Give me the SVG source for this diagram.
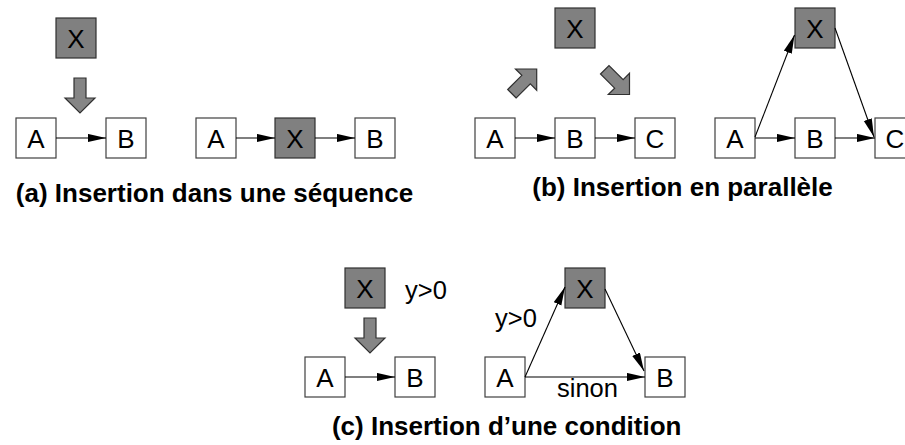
<svg xmlns="http://www.w3.org/2000/svg" width="905" height="445" viewBox="0 0 905 445">
<defs>
<style>
.box{fill:#ffffff;stroke:#404040;stroke-width:1.2}
.xbox{fill:#808080;stroke:#303030;stroke-width:1.2}
.lbl{font-family:"Liberation Sans",Arial,sans-serif;font-size:26px;fill:#000;text-anchor:middle}
.txt{font-family:"Liberation Sans",Arial,sans-serif;font-size:25.5px;fill:#000}
.cap{font-family:"Liberation Sans",Arial,sans-serif;font-size:26px;font-weight:bold;fill:#000;text-anchor:middle}
.edge{stroke:#000;stroke-width:1.1;fill:none;marker-end:url(#ah)}
.fat{fill:#858585;stroke:#303030;stroke-width:1.2;stroke-linejoin:miter}
</style>
<marker id="ah" markerUnits="userSpaceOnUse" markerWidth="19" markerHeight="9" refX="18.5" refY="4.2" orient="auto">
<path d="M0,0 L18.5,4.2 L0,8.4 z" fill="#000"/>
</marker>
<polygon id="fatarrow" points="-6,-35 6,-35 6,-15 15,-15 0,0 -15,-15 -6,-15"/>
</defs>

<!-- Panel (a) left -->
<g id="a1-X"><rect class="xbox" x="56" y="18" width="40" height="40"/><text class="lbl" x="76" y="48">X</text></g>
<g id="a1-A"><rect class="box" x="16" y="118" width="40" height="40"/><text class="lbl" x="36" y="148">A</text></g>
<g id="a1-B"><rect class="box" x="106" y="118" width="40" height="40"/><text class="lbl" x="126" y="148">B</text></g>
<!-- Panel (a) right -->
<g id="a2-A"><rect class="box" x="196" y="118" width="40" height="40"/><text class="lbl" x="216" y="148">A</text></g>
<g id="a2-X"><rect class="xbox" x="275" y="118" width="40" height="40"/><text class="lbl" x="295" y="148">X</text></g>
<g id="a2-B"><rect class="box" x="355" y="118" width="40" height="40"/><text class="lbl" x="375" y="148">B</text></g>

<!-- Panel (b) left -->
<g id="b1-X"><rect class="xbox" x="555" y="8" width="40" height="40"/><text class="lbl" x="575" y="38">X</text></g>
<g id="b1-A"><rect class="box" x="475" y="118" width="40" height="40"/><text class="lbl" x="495" y="148">A</text></g>
<g id="b1-B"><rect class="box" x="555" y="118" width="40" height="40"/><text class="lbl" x="575" y="148">B</text></g>
<g id="b1-C"><rect class="box" x="635" y="118" width="40" height="40"/><text class="lbl" x="655" y="148">C</text></g>
<!-- Panel (b) right -->
<g id="b2-X"><rect class="xbox" x="795" y="8" width="40" height="40"/><text class="lbl" x="815" y="38">X</text></g>
<g id="b2-A"><rect class="box" x="715" y="118" width="40" height="40"/><text class="lbl" x="735" y="148">A</text></g>
<g id="b2-B"><rect class="box" x="795" y="118" width="40" height="40"/><text class="lbl" x="815" y="148">B</text></g>
<g id="b2-C"><rect class="box" x="875" y="118" width="40" height="40"/><text class="lbl" x="895" y="148">C</text></g>

<!-- Panel (c) left -->
<g id="c1-X"><rect class="xbox" x="345" y="268" width="40" height="40"/><text class="lbl" x="365" y="298">X</text></g>
<g id="c1-A"><rect class="box" x="305" y="357" width="40" height="40"/><text class="lbl" x="325" y="387">A</text></g>
<g id="c1-B"><rect class="box" x="395" y="357" width="40" height="40"/><text class="lbl" x="415" y="387">B</text></g>
<!-- Panel (c) right -->
<g id="c2-X"><rect class="xbox" x="565" y="268" width="40" height="40"/><text class="lbl" x="585" y="298">X</text></g>
<g id="c2-A"><rect class="box" x="485" y="357" width="40" height="40"/><text class="lbl" x="505" y="387">A</text></g>
<g id="c2-B"><rect class="box" x="645" y="357" width="40" height="40"/><text class="lbl" x="665" y="387">B</text></g>

<!-- Insertion (fat) arrows -->
<g id="insert-arrows" class="fat">
<use href="#fatarrow" transform="translate(80,113)"/>
<use href="#fatarrow" transform="translate(536.7,69) rotate(-135)"/>
<use href="#fatarrow" transform="translate(629.5,94.5) rotate(-45)"/>
<use href="#fatarrow" transform="translate(370,353)"/>
</g>

<!-- Connectors -->
<g id="connectors">
<line class="edge" x1="56" y1="138" x2="106" y2="138"/>
<line class="edge" x1="236" y1="138" x2="275" y2="138"/>
<line class="edge" x1="315" y1="138" x2="355" y2="138"/>
<line class="edge" x1="515" y1="138" x2="555" y2="138"/>
<line class="edge" x1="595" y1="138" x2="635" y2="138"/>
<line class="edge" x1="755" y1="138" x2="795" y2="138"/>
<line class="edge" x1="835" y1="138" x2="875" y2="138"/>
<line class="edge" x1="755" y1="137" x2="794.5" y2="35"/>
<line class="edge" x1="835" y1="28" x2="874" y2="137"/>
<line class="edge" x1="345" y1="377" x2="395" y2="377"/>
<line class="edge" x1="525" y1="377" x2="645" y2="377"/>
<line class="edge" x1="525" y1="377" x2="565" y2="287"/>
<line class="edge" x1="605" y1="289" x2="644" y2="371"/>
</g>

<!-- Labels -->
<g id="labels">
<text class="txt" x="405" y="299">y&gt;0</text>
<text class="txt" x="495" y="327">y&gt;0</text>
<text class="txt" x="557" y="397">sinon</text>
<text class="cap" x="214.5" y="202">(a) Insertion dans une séquence</text>
<text class="cap" x="682.5" y="196">(b) Insertion en parallèle</text>
<text class="cap" x="506.7" y="435">(c) Insertion d’une condition</text>
</g>
</svg>
